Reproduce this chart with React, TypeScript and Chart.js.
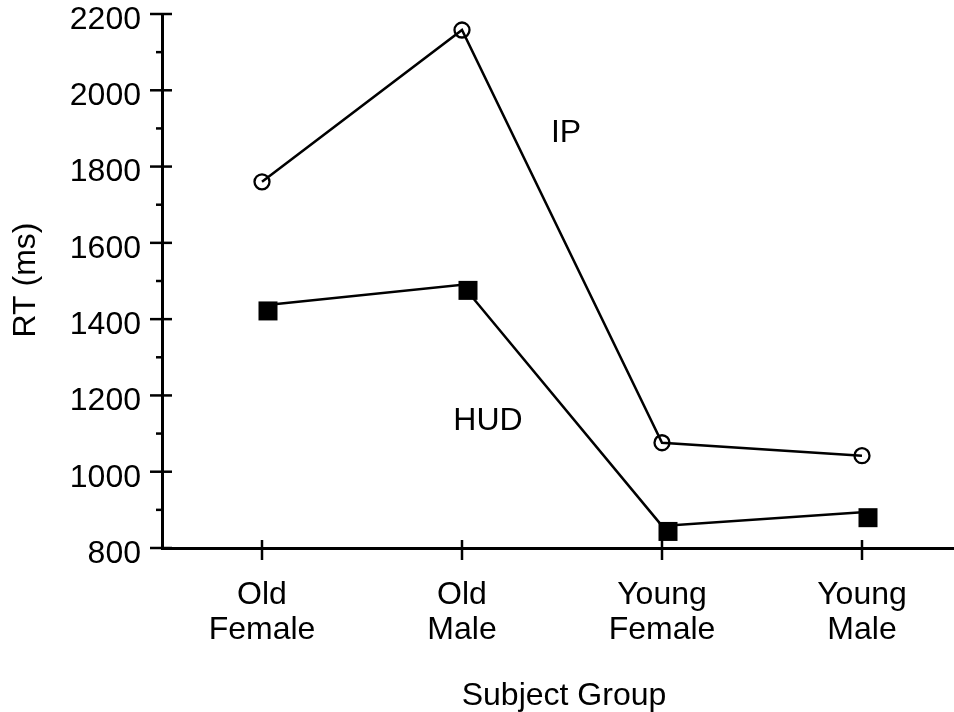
import React, { useEffect, useRef } from 'react';
import { Chart, registerables } from 'chart.js';

Chart.register(...registerables);

// ---- data ----
const categories: string[][] = [
  ['Old', 'Female'],
  ['Old', 'Male'],
  ['Young', 'Female'],
  ['Young', 'Male'],
];
const ipValues = [1760, 2158, 1076, 1042];
const hudValues = [1436, 1490, 858, 894];
const seriesNames = ['IP', 'HUD'];
// annotation anchors in data space: [x (category index), y (ms)]
const ipLabelAt = [1.52, 1888];
const hudLabelAt = [1.13, 1132];
const yMin = 800;
const yMax = 2200;
const yMajorStep = 200;
const yMinorStep = 100;
const xTitle = 'Subject Group';
const yTitle = 'RT (ms)';

const FONT_FAMILY = '"Liberation Sans", Arial, Helvetica, sans-serif';
const FONT_SIZE = 32;

function makeSquareMarker(): HTMLCanvasElement {
  const c = document.createElement('canvas');
  c.width = 40;
  c.height = 40;
  const g = c.getContext('2d')!;
  g.fillStyle = '#000';
  // square drawn slightly down-right of the data point, like the original
  g.fillRect(20 + 6 - 9.5, 20 + 5.5 - 9.5, 19, 19);
  return c;
}

export default function App() {
  const ref = useRef<HTMLCanvasElement | null>(null);

  useEffect(() => {
    if (!ref.current) return;
    const square = makeSquareMarker();

    const decor = {
      id: 'decor',
      afterDraw(chart: any) {
        const ctx = chart.ctx;
        const xs = chart.scales.x;
        const ys = chart.scales.y;
        const area = chart.chartArea;
        ctx.save();
        ctx.strokeStyle = '#000';
        ctx.lineWidth = 2.5;
        ctx.lineCap = 'butt';
        // y ticks
        for (let v = yMin; v <= yMax; v += yMinorStep) {
          const py = ys.getPixelForValue(v);
          const major = (v - yMin) % yMajorStep === 0;
          ctx.beginPath();
          if (major) {
            ctx.moveTo(area.left - 12, py);
            ctx.lineTo(area.left + 10, py);
          } else {
            ctx.moveTo(area.left - 6, py);
            ctx.lineTo(area.left, py);
          }
          ctx.stroke();
        }
        // x ticks
        categories.forEach((_, i) => {
          const px = xs.getPixelForValue(i);
          ctx.beginPath();
          ctx.moveTo(px, area.bottom - 8);
          ctx.lineTo(px, area.bottom + 12);
          ctx.stroke();
        });
        // titles
        ctx.fillStyle = '#000';
        ctx.font = `${FONT_SIZE}px ${FONT_FAMILY}`;
        ctx.textAlign = 'center';
        ctx.textBaseline = 'alphabetic';
        ctx.fillText(xTitle, 564, 705);
        ctx.save();
        ctx.translate(35, 280);
        ctx.rotate(-Math.PI / 2);
        ctx.fillText(yTitle, 0, 0);
        ctx.restore();
        // series annotations
        ctx.textBaseline = 'middle';
        ctx.fillText(seriesNames[0], xs.getPixelForValue(ipLabelAt[0]), ys.getPixelForValue(ipLabelAt[1]));
        ctx.fillText(seriesNames[1], xs.getPixelForValue(hudLabelAt[0]), ys.getPixelForValue(hudLabelAt[1]));
        ctx.restore();
      },
    };

    const chart = new Chart(ref.current, {
      type: 'line',
      data: {
        datasets: [
          {
            label: seriesNames[0],
            data: ipValues.map((v, i) => ({ x: i, y: v })),
            borderColor: '#000',
            borderWidth: 2.5,
            pointStyle: 'circle',
            pointRadius: 7.5,
            pointBorderWidth: 2.3,
            pointBorderColor: '#000',
            pointBackgroundColor: 'rgba(0,0,0,0)',
            tension: 0,
            clip: false,
          },
          {
            label: seriesNames[1],
            data: hudValues.map((v, i) => ({ x: i, y: v })),
            borderColor: '#000',
            borderWidth: 2.5,
            pointStyle: square as any,
            pointRadius: 10,
            pointBackgroundColor: '#000',
            tension: 0,
            clip: false,
          },
        ],
      },
      options: {
        animation: false,
        responsive: true,
        maintainAspectRatio: false,
        layout: { autoPadding: false, padding: { top: 14, left: 0, right: 0, bottom: 0 } },
        plugins: {
          legend: { display: false },
          tooltip: { enabled: false },
          title: { display: false },
        },
        scales: {
          x: {
            type: 'linear',
            min: -0.5,
            max: 3.46,
            afterBuildTicks: (s: any) => {
              s.ticks = categories.map((_, i) => ({ value: i }));
            },
            afterFit: (s: any) => {
              s.height = 164;
              s.paddingLeft = 0;
              s.paddingRight = 0;
              s.paddingTop = 0;
              s.paddingBottom = 0;
            },
            grid: { display: true, drawOnChartArea: false, drawTicks: false },
            border: { display: true, color: '#000', width: 3 },
            ticks: {
              autoSkip: false,
              maxRotation: 0,
              padding: 30,
              color: '#000',
              font: { family: FONT_FAMILY, size: FONT_SIZE, lineHeight: 35 / FONT_SIZE },
              callback: (v: any) => categories[Math.round(Number(v))] ?? '',
            },
          },
          y: {
            type: 'linear',
            min: yMin,
            max: yMax,
            afterFit: (s: any) => {
              s.width = 162;
              s.paddingTop = 0;
              s.paddingBottom = 0;
              s.paddingLeft = 0;
              s.paddingRight = 0;
            },
            grid: { display: true, drawOnChartArea: false, drawTicks: false },
            border: { display: true, color: '#000', width: 3 },
            ticks: {
              stepSize: yMajorStep,
              autoSkip: false,
              padding: 21,
              labelOffset: 6,
              color: '#000',
              font: { family: FONT_FAMILY, size: FONT_SIZE },
              callback: (v: any) => String(v),
            },
          },
        },
      },
      plugins: [decor],
    });

    return () => chart.destroy();
  }, []);

  return (
    <div style={{ position: 'absolute', left: 0, top: 0, width: 954, height: 712, background: '#fff' }}>
      <canvas ref={ref} />
    </div>
  );
}
